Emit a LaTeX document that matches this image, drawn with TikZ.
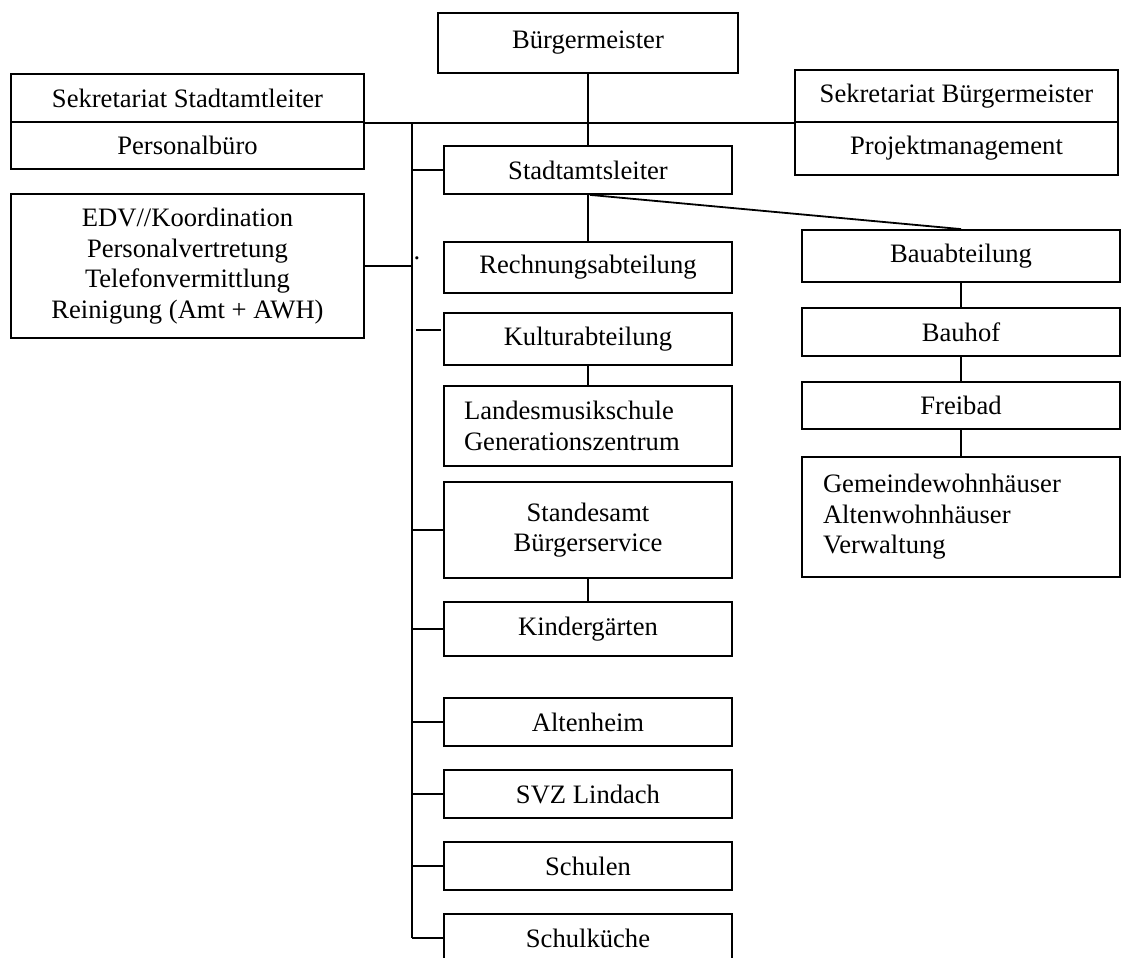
\documentclass[tikz,border=0pt]{standalone}
\usepackage{fontspec}
\setmainfont{Liberation Serif}
\newcommand\orgfont{\fontsize{26.6pt}{30.5pt}\selectfont}

\begin{document}
\begin{tikzpicture}[x=1pt, y=-1pt,
    every node/.style={draw, line width=1.8pt, inner sep=0pt, align=center, font=\orgfont},
    dept/.style={minimum width=288pt, minimum height=48pt},
    link/.style={line width=1.8pt}]
    \useasboundingbox (0,0) rectangle (1122,958);

    % Leitung
    \node[minimum width=300pt, minimum height=60pt] (bgm) at (588,43) {Bürgermeister};
    \node[minimum width=353pt, minimum height=48pt] (sst) at (187.5,98) {Sekretariat Stadtamtleiter};
    \node[minimum width=353pt, minimum height=47pt] (pers) at (187.5,145.5) {Personalbüro};
    \node[minimum width=353pt, minimum height=144pt] (edv) at (187.5,266) {EDV//Koordination\\Personalvertretung\\Telefonvermittlung\\Reinigung (Amt + AWH)};
    \node[minimum width=323pt, minimum height=52pt] (sbm) at (956.5,96) {Sekretariat Bürgermeister};
    \node[minimum width=323pt, minimum height=53pt] (proj) at (956.5,148.5) {Projektmanagement};

    % Abteilungen
    \node[dept] (sal) at (588,170) {Stadtamtsleiter};
    \node[dept, minimum height=51pt] (rech) at (588,267.5) {Rechnungsabteilung};
    \node[dept, minimum height=52pt] (kult) at (588,339) {Kulturabteilung};
    \node[dept, minimum height=80pt, text width=248pt, align=left] (lms) at (588,426) {Landesmusikschule\\Generationszentrum};
    \node[dept, minimum height=96pt] (std) at (588,530) {Standesamt\\Bürgerservice};
    \node[dept, minimum height=54pt] (kiga) at (588,629) {Kindergärten};
    \node[dept] (alt) at (588,722) {Altenheim};
    \node[dept] (svz) at (588,794) {SVZ Lindach};
    \node[dept] (schul) at (588,866) {Schulen};
    \node[dept] (kueche) at (588,938) {Schulküche};

    % Bauabteilung
    \node[dept, minimum width=318pt, minimum height=52pt] (bau) at (961,256) {Bauabteilung};
    \node[dept, minimum width=318pt] (bhof) at (961,332) {Bauhof};
    \node[dept, minimum width=318pt, minimum height=47pt] (frei) at (961,405.5) {Freibad};
    \node[dept, minimum width=318pt, minimum height=120pt, text width=276pt, align=left] (gwh) at (961,517) {Gemeindewohnhäuser\\Altenwohnhäuser\\Verwaltung};

    \node[draw=none] (dot) at (417,258) {.};

    % Linien
    \coordinate (spine) at (412,122);
    \coordinate (kdash) at (416,330);
    \coordinate (kdashend) at (441,330);

    \draw[link] (bgm) -- (sal);
    \draw[link] (sst.south east) -- (sbm.south west);
    \draw[link] (spine) -- (spine |- kueche.west);
    \draw[link] (edv.east) -- (spine |- edv.east);
    \foreach \n in {sal,std,kiga,alt,svz,schul,kueche}
        \draw[link] (spine |- \n.west) -- (\n.west);
    \draw[link] (kdash) -- (kdashend);

    \draw[link] (sal) -- (rech);
    \draw[link] (kult) -- (lms);
    \draw[link] (std) -- (kiga);
    \draw[link] ([xshift=2pt]sal.south) -- (bau.north);
    \draw[link] (bau) -- (bhof);
    \draw[link] (bhof) -- (frei);
    \draw[link] (frei) -- (gwh);
\end{tikzpicture}
\end{document}
